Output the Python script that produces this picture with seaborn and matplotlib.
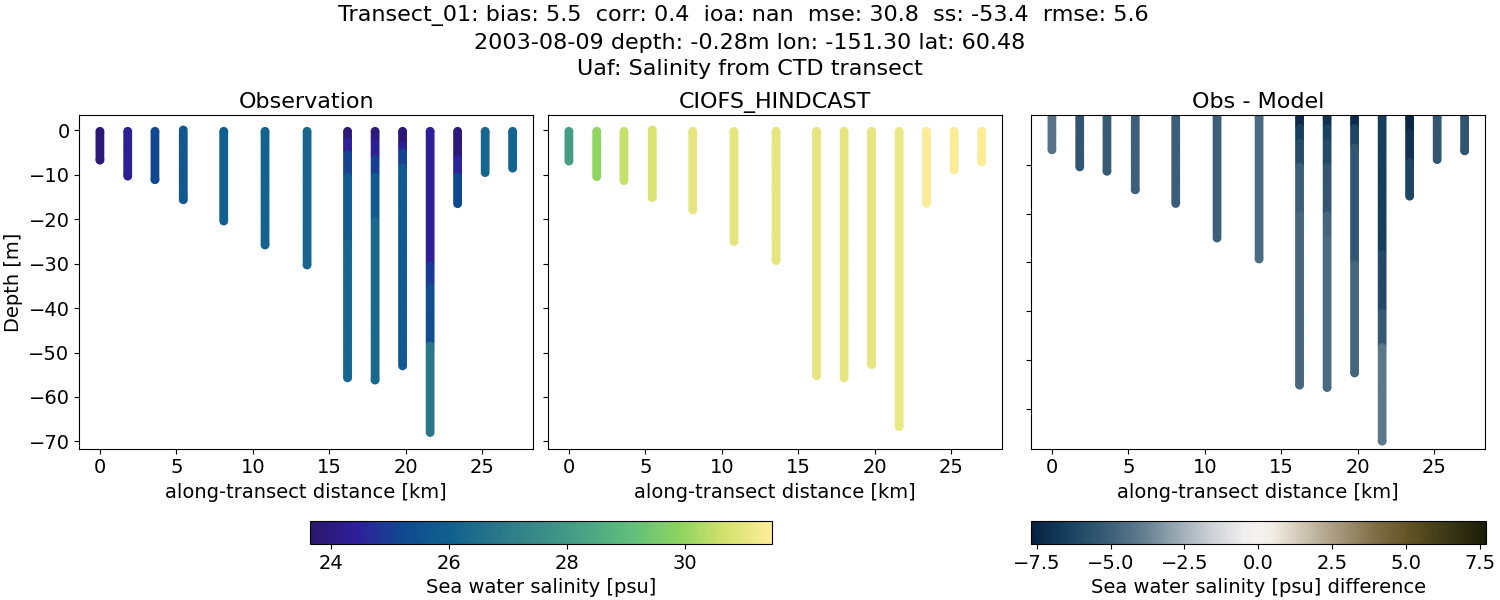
import matplotlib
matplotlib.use("Agg")
import matplotlib.pyplot as plt
import pandas as pd
import seaborn as sns
from matplotlib.cm import ScalarMappable
from matplotlib.colors import LinearSegmentedColormap, Normalize

# distance of each CTD station along the transect [km]
station_km = [0, 1.82, 3.6, 5.45, 8.1, 10.8, 13.55, 16.2, 18.0, 19.8, 21.6, 23.4, 25.2, 27.0]

# depth samples of a cast [m]
sample_depths = [-0.5, -1, -1.5, -2, -2.5, -3, -3.5, -4, -4.5, -5, -5.5, -6, -6.5, -7, -7.5, -8,
                 -8.5, -9, -9.5, -10, -10.5, -11, -11.5, -12, -12.5, -13, -13.5, -14, -14.5, -15,
                 -15.5, -16, -16.5, -17, -17.5, -18, -18.5, -19, -19.5, -20, -20.5, -21, -21.5,
                 -22, -22.5, -23, -23.5, -24, -24.5, -25, -25.5, -26, -26.5, -27, -27.5, -28,
                 -28.5, -29, -29.5, -30, -30.5, -31, -31.5, -32, -32.5, -33, -33.5, -34, -34.5,
                 -35, -35.5, -36, -36.5, -37, -37.5, -38, -38.5, -39, -39.5, -40, -40.5, -41,
                 -41.5, -42, -42.5, -43, -43.5, -44, -44.5, -45, -45.5, -46, -46.5, -47, -47.5,
                 -48, -48.5, -49, -49.5, -50, -50.5, -51, -51.5, -52, -52.5, -53, -53.5, -54,
                 -54.5, -55, -55.5, -56, -56.5, -57, -57.5, -58, -58.5, -59, -59.5, -60, -60.5,
                 -61, -61.5, -62, -62.5, -63, -63.5, -64, -64.5, -65, -65.5, -66, -66.5, -67,
                 -67.5, -68]

# first depth of each cast
obs_top = [-0.2, -0.2, -0.2, 0.1, -0.2, -0.2, -0.2, -0.2, -0.2, -0.2, -0.2, -0.2, -0.2, -0.2]
model_top = [-0.2, -0.2, -0.2, 0.1, -0.2, -0.2, -0.2, -0.2, -0.2, -0.2, -0.2, -0.2, -0.2, -0.2]

# per station: lower depth of each layer and the salinity read in that layer
obs_bottom = [[-6.7], [-10.3], [-11.1], [-15.6], [-20.4], [-25.8], [-30.3],
              [-2, -5, -10, -25, -55.7], [-2, -6, -10, -20, -56.2], [-3, -4.5, -8, -53],
              [-30, -35, -48, -68], [-6, -10, -16.5], [-9.5], [-8.5]]
obs_salinity = [[23.8], [24.3], [25.2], [25.7], [25.9], [26.1], [26.2],
                [23.9, 24.4, 25.1, 25.8, 26.2], [23.9, 24.3, 25.0, 25.8, 26.3], [23.8, 24.3, 25.1, 25.8],
                [24.4, 24.9, 25.4, 26.8], [23.9, 24.5, 25.2], [26.2], [26.1]]

model_bottom = [[-6.9], [-10.4], [-11.3], [-15.1], [-17.9], [-25.0], [-29.3], [-55.2],
                [-55.7], [-52.7], [-66.7], [-16.4], [-8.9], [-7.1]]
model_salinity = [[28.1], [29.95], [30.55], [30.8], [31.0], [31.0], [31.0], [31.0],
                  [31.0], [31.0], [31.15], [31.45], [31.4], [31.4]]

diff_bottom = [[-6.9], [-10.4], [-11.3], [-15.1], [-17.9], [-25.0], [-29.3],
               [-2, -5, -10, -20, -55.2], [-2, -5, -10, -20, -25, -55.7], [-2, -6, -30, -52.7],
               [-28, -40, -47, -66.7], [-3, -9, -16.4], [-8.9], [-7.1]]
diff_salinity = [[-4.2], [-5.4], [-5.2], [-5.0], [-5.1], [-5.0], [-4.6],
                 [-7.2, -6.5, -5.9, -5.0, -4.7], [-7.0, -6.4, -6.0, -5.4, -4.8, -4.6], [-7.2, -6.3, -5.4, -4.8],
                 [-6.5, -6.0, -5.3, -4.1], [-7.4, -7.0, -6.2], [-5.4], [-5.5]]

titles = ["Observation", "CIOFS_HINDCAST", "Obs - Model"]
suptitle = ("Transect_01: bias: 5.5  corr: 0.4  ioa: nan  mse: 30.8  ss: -53.4  rmse: 5.6  \n"
            "2003-08-09 depth: -0.28m lon: -151.30 lat: 60.48\n"
            "Uaf: Salinity from CTD transect")

haline = LinearSegmentedColormap.from_list("haline_like", [
    "#2a186c", "#2f1f9c", "#0f4a90", "#10608f", "#287689", "#3a8c88",
    "#4aa585", "#62c07a", "#8dd45f", "#d4e16e", "#fdee99"])
diff_cmap = LinearSegmentedColormap.from_list("diff_like", [
    (0.0, "#07203f"), (0.077, "#17405f"), (0.174, "#3d6079"), (0.24, "#5f7b8d"),
    (0.337, "#a5b2bb"), (0.40, "#cfd3d8"), (0.467, "#efeeee"), (0.5, "#f5f2ef"),
    (0.533, "#f0ebe5"), (0.565, "#e0d8ca"), (0.663, "#ac9f85"), (0.76, "#7e6d45"),
    (0.826, "#655527"), (0.89, "#47401b"), (1.0, "#1c1e08")])

salinity_norm = Normalize(23.64, 31.49)
diff_norm = Normalize(-7.68, 7.68)

plt.rcParams["font.size"] = 14


def cast_table(tops, bottoms, values):
    rows = []
    for km, top, layer_bottom, layer_value in zip(station_km, tops, bottoms, values):
        depths = [top] + [d for d in sample_depths if layer_bottom[-1] < d < top] + [layer_bottom[-1]]
        for depth in depths:
            # value of the first layer that reaches this depth
            value = next(v for b, v in zip(layer_bottom, layer_value) if depth >= b)
            rows.append({"km": km, "depth": depth, "value": value})
    return pd.DataFrame(rows)


def px_axes(fig, left, right, top, bottom):
    return fig.add_axes([left / 1500, 1 - bottom / 600, (right - left) / 1500, (bottom - top) / 600])


fig = plt.figure(figsize=(15, 6), dpi=100)
ax_obs = px_axes(fig, 79.3, 533.3, 115.3, 448.5)
ax_model = px_axes(fig, 548.3, 1002.3, 115.3, 448.5)
ax_diff = px_axes(fig, 1031.3, 1485.3, 115.3, 448.5)

panels = [
    (ax_obs, cast_table(obs_top, obs_bottom, obs_salinity), haline, salinity_norm),
    (ax_model, cast_table(model_top, model_bottom, model_salinity), haline, salinity_norm),
    (ax_diff, cast_table(model_top, diff_bottom, diff_salinity), diff_cmap, diff_norm),
]
for title, (ax, table, cmap, norm) in zip(titles, panels):
    sns.scatterplot(data=table, x="km", y="depth", hue="value", palette=cmap, hue_norm=norm,
                    s=40, linewidth=0, legend=False, ax=ax)
    ax.set_title(title, fontsize=16, pad=5)
    ax.set_xlabel("along-transect distance [km]")
    ax.set_ylabel("")
    ax.set_xlim(-1.35, 28.35)
    ax.set_xticks([0, 5, 10, 15, 20, 25])

ax_obs.set_ylim(-71.6, 3.4)
ax_obs.set_yticks([0, -10, -20, -30, -40, -50, -60, -70])
ax_obs.set_ylabel("Depth [m]")
ax_model.set_ylim(-71.6, 3.4)
ax_model.set_yticks([0, -10, -20, -30, -40, -50, -60, -70])
ax_model.tick_params(labelleft=False)
ax_diff.set_ylim(-68.2, 0.2)
ax_diff.set_yticks([-10, -20, -30, -40, -50, -60])
ax_diff.tick_params(labelleft=False)

cax_sal = px_axes(fig, 310.3, 772.3, 521.3, 544)
cb_sal = fig.colorbar(ScalarMappable(norm=salinity_norm, cmap=haline), cax=cax_sal, orientation="horizontal")
cb_sal.set_ticks([24, 26, 28, 30])
cb_sal.set_label("Sea water salinity [psu]")

cax_diff = px_axes(fig, 1031.3, 1485.5, 521.3, 544)
cb_diff = fig.colorbar(ScalarMappable(norm=diff_norm, cmap=diff_cmap), cax=cax_diff, orientation="horizontal")
cb_diff.set_ticks([-7.5, -5, -2.5, 0, 2.5, 5, 7.5])
cb_diff.set_label("Sea water salinity [psu] difference")

fig.suptitle(suptitle, fontsize=16, x=0.5, y=0.992, va="top", linespacing=1.42)

fig.savefig("out.png", dpi=100)
